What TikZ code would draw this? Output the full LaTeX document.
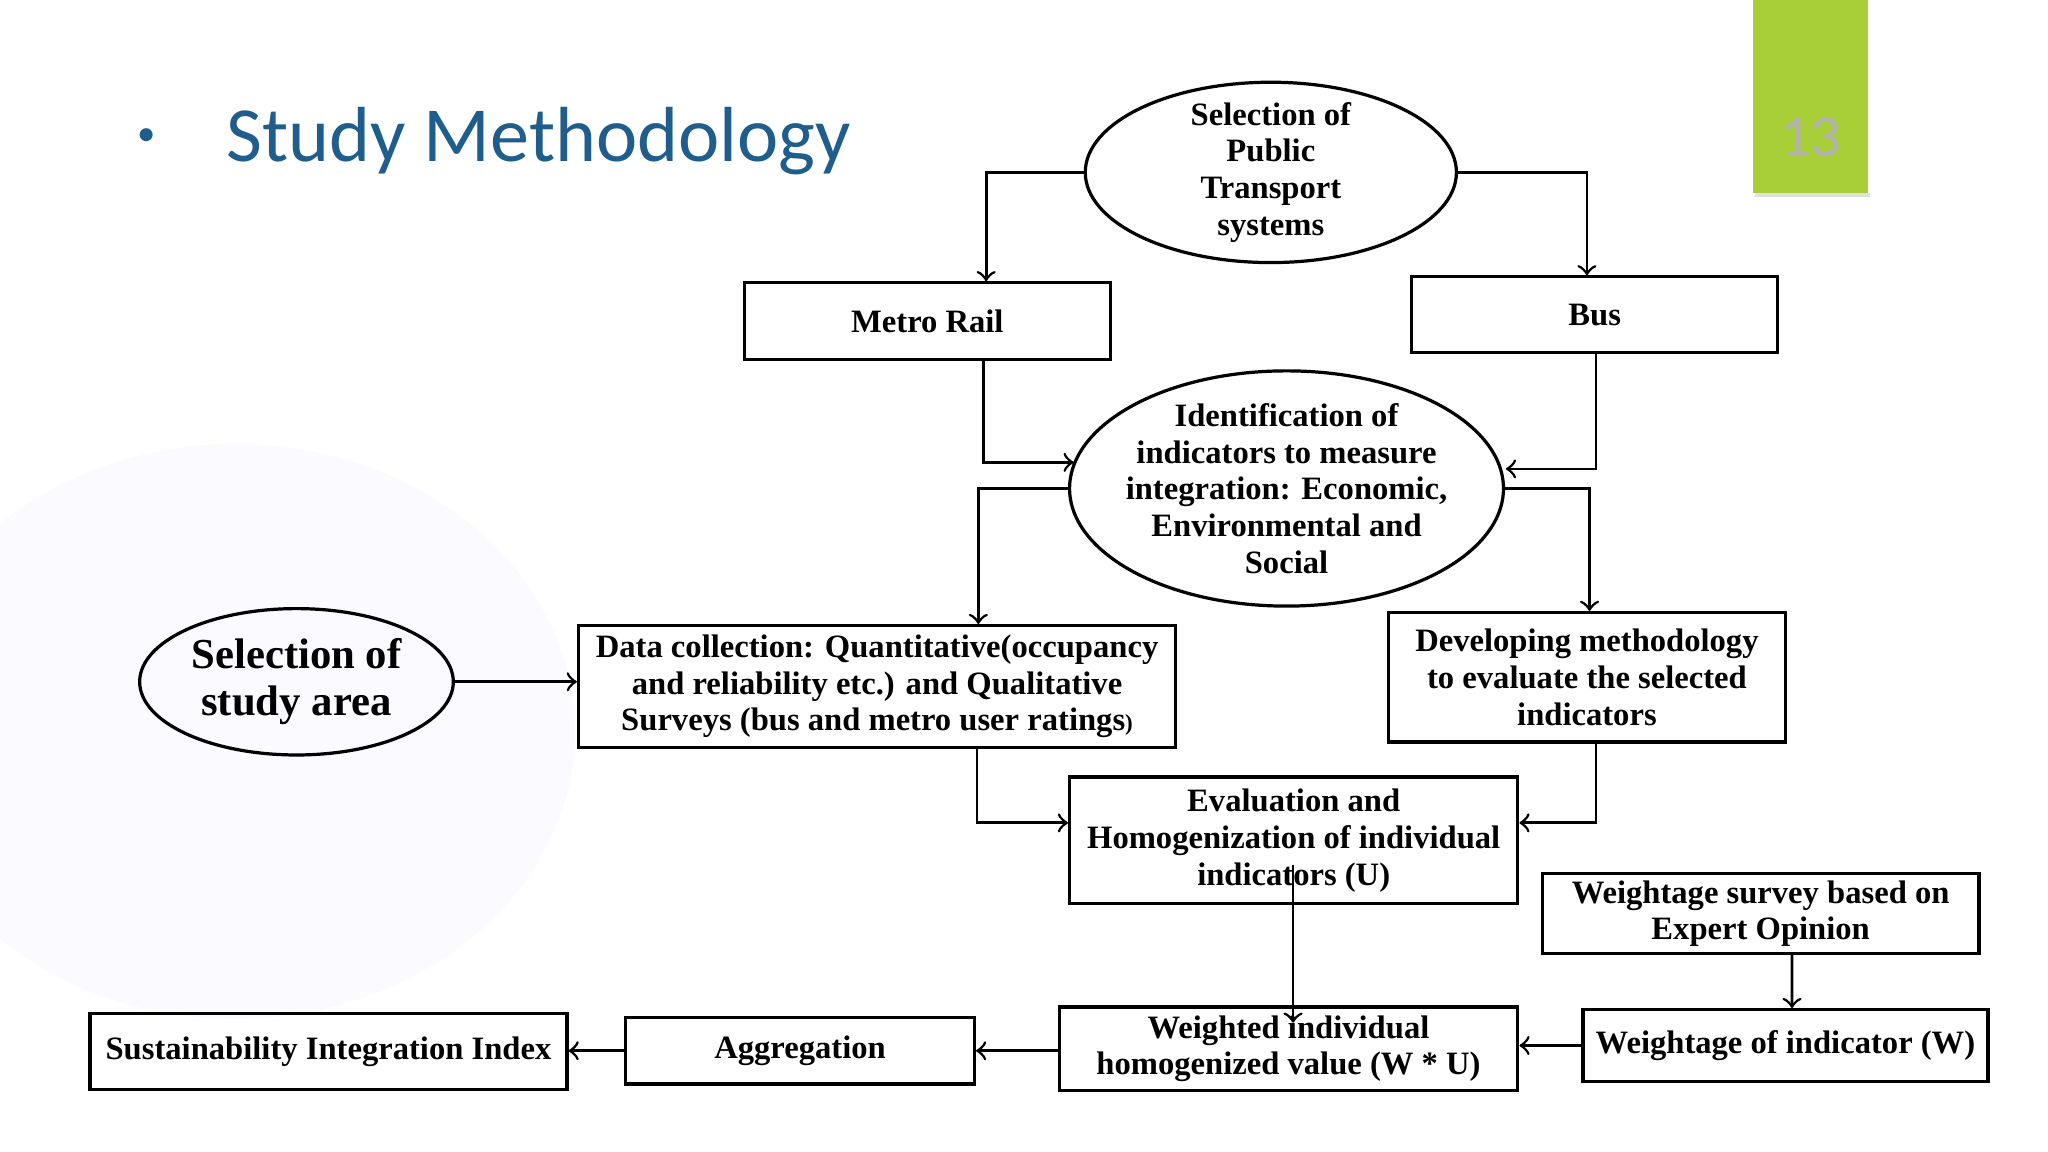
\documentclass[tikz,border=0pt]{standalone}
\usepackage{fontspec}
\setmainfont{Liberation Serif}
\newfontfamily\titlefont{Carlito}
\usetikzlibrary{shapes.geometric,calc}
\definecolor{tabgreen}{HTML}{A8CF38}
\definecolor{titleblue}{HTML}{1F5E8C}
\begin{document}
\begin{tikzpicture}[x=0.01cm,y=-0.01cm,
  box/.style={draw,line width=0.7pt,inner sep=1pt,align=center,font=\bfseries\fontsize{7.1}{8}\selectfont},
  ell/.style={draw,ellipse,line width=0.7pt,inner sep=-3pt,align=center,font=\bfseries\fontsize{7.1}{8}\selectfont},
  arr/.style={->,line width=0.6pt},
  ln/.style={line width=0.6pt}]
\useasboundingbox (0,0) rectangle (1568,882);
\fill[white] (0,0) rectangle (1568,882);
\fill[blue!2] (180,560) ellipse (260 and 220);
\fill[tabgreen] (1342,0) rectangle (1430,148);
\fill[black!12] (1344,148) rectangle (1432,151);
\node[font=\titlefont\fontsize{13}{15}\selectfont,text=gray!60] (num) at (1386,105) {13};
\node[font=\titlefont\fontsize{8}{10}\selectfont,text=titleblue] (bul) at (112,105) {\textbullet};
\node[font=\titlefont\fontsize{17}{20}\selectfont,text=titleblue,anchor=west,inner sep=0pt] (title) at (173,108) {Study Methodology};

\node[ell,minimum width=2.84cm,minimum height=1.38cm] (e1) at (973,132) {Selection of\\Public\\Transport\\systems};
\node[box,minimum width=2.8cm,minimum height=0.59cm] (metro) at (710,246) {Metro Rail};
\node[box,minimum width=2.8cm,minimum height=0.58cm] (bus) at (1221,241) {Bus};
\node[ell,inner xsep=-9pt,minimum width=3.32cm,minimum height=1.8cm] (e2) at (985,374) {Identification of\\indicators to measure\\integration: Economic,\\Environmental and\\Social};
\node[ell,minimum width=2.4cm,minimum height=1.12cm,font=\bfseries\fontsize{9.3}{10.3}\selectfont] (area) at (227,522) {Selection of\\study area};
\node[box,minimum width=4.57cm,minimum height=0.93cm] (data) at (671.5,525.5) {Data collection: Quantitative(occupancy\\and reliability etc.) and Qualitative\\Surveys (bus and metro user ratings{\fontsize{5}{6}\selectfont)}};
\node[box,minimum width=3.04cm,minimum height=0.99cm] (dev) at (1215,518.5) {Developing methodology\\to evaluate the selected\\indicators};
\node[box,minimum width=3.43cm,minimum height=0.97cm] (eval) at (990.5,643.5) {Evaluation and\\Homogenization of individual\\indicators (U)};
\node[box,minimum width=3.34cm,minimum height=0.61cm] (survey) at (1348,699.5) {Weightage survey based on\\Expert Opinion};
\node[box,minimum width=3.51cm,minimum height=0.64cm] (wiv) at (986.5,803) {Weighted individual\\homogenized value (W * U)};
\node[box,minimum width=3.1cm,minimum height=0.55cm] (wi) at (1367,800.5) {Weightage of indicator (W)};
\node[box,minimum width=2.67cm,minimum height=0.51cm] (agg) at (612.5,804.5) {Aggregation};
\node[box,minimum width=3.65cm,minimum height=0.58cm] (sii) at (251.5,805) {Sustainability Integration Index};

\draw[arr] (e1.west) -| ([xshift=0.45cm]metro.north);
\draw[arr] (e1.east) -| ([xshift=-0.06cm]bus.north);
\draw[arr] ([xshift=0.43cm]metro.south) |- (822,354);
\draw[arr] ([xshift=0.01cm]bus.south) |- (1153,359);
\draw[arr] (e2.west) -| ([xshift=0.775cm]data.north);
\draw[arr] (e2.east) -| ([xshift=0.02cm]dev.north);
\draw[arr] (area.east) -- (data.west |- area.east);
\draw[arr] ([xshift=0.765cm]data.south) |- (eval.west |- 0,630);
\draw[arr] ([xshift=0.07cm]dev.south) |- (eval.east |- 0,630);
\draw[arr] (990,662) -- (990,783);
\draw[arr] ([xshift=0.24cm]survey.south) -- ([xshift=0.05cm]wi.north);
\draw[arr] (wi.west) -- (wiv.east |- wi.west);
\draw[arr] (wiv.west |- agg.west) -- (agg.east);
\draw[arr] (agg.west) -- (sii.east |- agg.west);
\end{tikzpicture}
\end{document}
